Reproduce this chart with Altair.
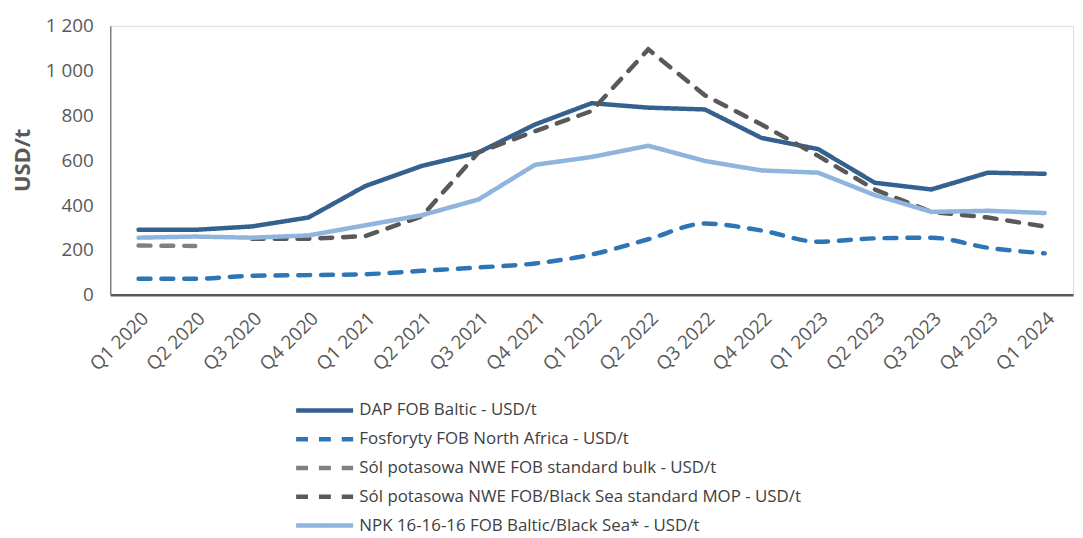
import altair as alt
import pandas as pd

quarters = ["Q1 2020", "Q2 2020", "Q3 2020", "Q4 2020", "Q1 2021", "Q2 2021", "Q3 2021", "Q4 2021",
            "Q1 2022", "Q2 2022", "Q3 2022", "Q4 2022", "Q1 2023", "Q2 2023", "Q3 2023", "Q4 2023", "Q1 2024"]

series_names = [
    "DAP FOB Baltic - USD/t",
    "Fosforyty FOB North Africa - USD/t",
    "Sól potasowa NWE FOB standard bulk - USD/t",
    "Sól potasowa NWE FOB/Black Sea standard MOP - USD/t",
    "NPK 16-16-16 FOB Baltic/Black Sea* - USD/t",
]

dap = [290, 290, 305, 345, 485, 575, 635, 760, 855, 835, 827, 700, 650, 500, 470, 545, 540]
fosforyty = [72, 72, 85, 88, 92, 107, 122, 140, 180, 248, 318, 287, 237, 252, 255, 210, 185]
sol_bulk = [220, 218, None, None, None, None, None, None, None, None, None, None, None, None, None, None, None]
sol_mop = [None, None, 250, 250, 262, 350, 635, 730, 820, 1095, 890, 760, 620, 470, 370, 345, 305]
npk = [255, 260, 255, 265, 310, 355, 425, 580, 615, 665, 597, 555, 545, 445, 370, 375, 365]

colors = ["#35618F", "#2E75B6", "#808080", "#595959", "#8FB4DE"]
dashes = [[1, 0], [12, 11], [12, 11], [12, 11], [1, 0]]

rows = []
for name, vals in zip(series_names, [dap, fosforyty, sol_bulk, sol_mop, npk]):
    for q, v in zip(quarters, vals):
        if v is not None:
            rows.append({"quarter": q, "series": name, "value": v})
df = pd.DataFrame(rows)

FONT = "Open Sans"
TXT = "#595959"

x_enc = alt.X("quarter:N", sort=quarters, scale=alt.Scale(paddingOuter=0.5),
              axis=alt.Axis(title=None, labelAngle=-45, labelFontSize=19, labelColor=TXT, labelFont=FONT,
                            ticks=False, domainColor="#595959", domainWidth=2.5, labelPadding=14))
y_enc = alt.Y("value:Q", scale=alt.Scale(domain=[0, 1200]),
              axis=alt.Axis(title="USD/t", values=[0, 200, 400, 600, 800, 1000, 1200],
                            labelExpr="replace(format(datum.value, ',d'), ',', ' ')",
                            labelFontSize=19, labelColor=TXT, labelFont=FONT, ticks=False, grid=False,
                            domainColor="#7F7F7F", domainWidth=1.5, labelPadding=17,
                            titleFontSize=22, titleFont=FONT, titleColor=TXT, titleFontWeight="bold",
                            titleX=-88, titleY=135, titleAngle=-90, titleBaseline="middle", titleAlign="center"))
color_enc = alt.Color("series:N", scale=alt.Scale(domain=series_names, range=colors),
                      legend=alt.Legend(title=None, orient="none", legendX=185, legendY=373,
                                        direction="vertical", symbolType="stroke", symbolSize=3300,
                                        symbolStrokeWidth=4.5, labelFontSize=17, labelColor="#404040",
                                        labelFont=FONT, labelOffset=4, rowPadding=0, clipHeight=29,
                                        labelLimit=600))
dash_enc = alt.StrokeDash("series:N", scale=alt.Scale(domain=series_names, range=dashes), legend=None)

base = alt.Chart(df).encode(x=x_enc, y=y_enc, color=color_enc, strokeDash=dash_enc,
                            detail="series:N")

straight = base.transform_filter(alt.datum.series != series_names[1]).mark_line(strokeWidth=4.5, strokeCap="round")
smooth = base.transform_filter(alt.datum.series == series_names[1]).mark_line(strokeWidth=4.5, strokeCap="round",
                                                                               interpolate="monotone")

chart = alt.layer(straight, smooth).properties(
    width=970, height=271,
    autosize=alt.AutoSizeParams(type="none"),
    padding={"left": 103, "top": 16, "right": 2, "bottom": 243},
).configure_view(stroke=None).configure(background="white")

chart.save("out.html", embed_options={"renderer": "svg", "actions": False})
